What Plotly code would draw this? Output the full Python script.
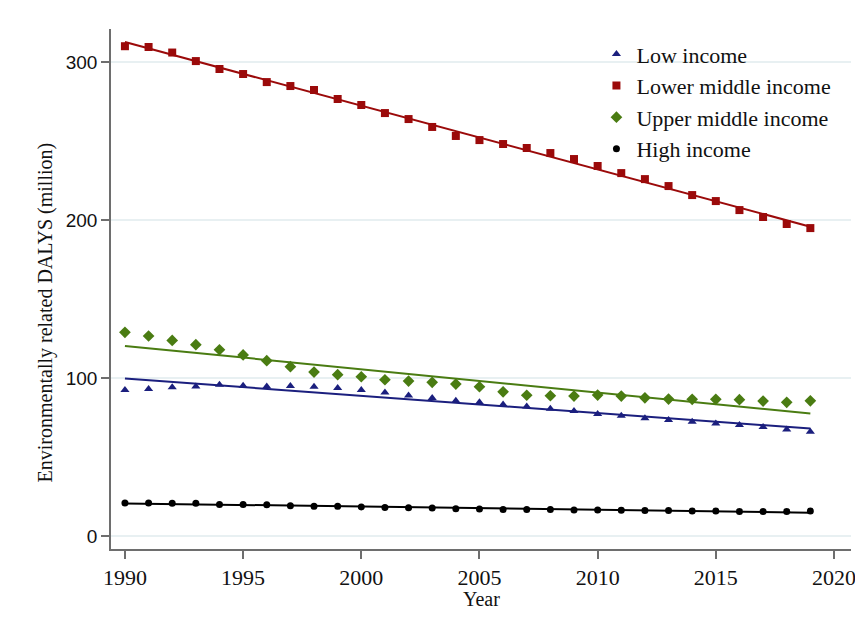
import numpy as np
import plotly.graph_objects as go

# data (million DALYs)
years = list(range(1990, 2020))

low_income = [92.4, 93.0, 94.1, 94.7, 95.8, 95.1, 94.7, 94.9, 94.5, 93.7,
              92.4, 90.9, 89.0, 87.3, 85.6, 84.6, 83.3, 82.0, 80.6, 79.1,
              77.2, 76.2, 74.5, 73.4, 72.4, 71.3, 70.3, 69.0, 67.5, 66.0]

lower_middle = [310.0, 309.5, 306.0, 300.6, 295.6, 292.4, 287.3, 284.8, 282.3, 276.6,
                272.8, 267.7, 263.9, 258.9, 253.2, 250.6, 248.1, 245.6, 242.4, 238.6,
                234.2, 229.7, 225.9, 221.5, 215.8, 212.0, 206.3, 201.9, 197.5, 194.9]

upper_middle = [128.9, 126.6, 123.8, 121.1, 117.9, 114.6, 111.0, 107.2, 103.8, 102.1,
                100.8, 98.9, 98.1, 97.3, 96.2, 94.5, 91.3, 89.1, 88.8, 88.6,
                89.2, 88.6, 87.5, 86.7, 86.5, 86.5, 86.3, 85.4, 84.6, 85.6]

high_income = [20.9, 20.9, 20.7, 20.7, 20.0, 20.0, 19.8, 19.2, 18.8, 18.8,
               18.4, 18.1, 17.9, 17.7, 17.3, 17.1, 16.8, 16.8, 16.8, 16.5,
               16.5, 16.3, 16.1, 16.1, 15.8, 15.8, 15.6, 15.5, 15.6, 15.8]

x_ticks = [1990, 1995, 2000, 2005, 2010, 2015, 2020]
y_ticks = [0, 100, 200, 300]

series = [
    ("Low income", low_income, "#1b1f7e", "triangle-up", 8),
    ("Lower middle income", lower_middle, "#9b0a0a", "square", 8),
    ("Upper middle income", upper_middle, "#4a7c12", "diamond", 9),
    ("High income", high_income, "#000000", "circle", 7),
]

serif = "Liberation Serif, Times New Roman, serif"
sans = "Liberation Sans, Arial, sans-serif"

fig = go.Figure()

# fitted linear trend for each group
for name, vals, col, sym, sz in series:
    k, b = np.polyfit(years, vals, 1)
    fit = [k * yr + b for yr in years]
    fig.add_trace(go.Scatter(
        x=years, y=fit, mode="lines", showlegend=False, hoverinfo="skip",
        line=dict(color=col, width=2)))

# observed points
for name, vals, col, sym, sz in series:
    fig.add_trace(go.Scatter(
        x=years, y=vals, mode="markers", name=name,
        marker=dict(symbol=sym, size=sz, color=col)))

# page body has an 8px margin, so the figure is a bit smaller than the window
fig.update_layout(
    width=855, height=614,
    paper_bgcolor="white", plot_bgcolor="white",
    margin=dict(l=103, r=12, t=21, b=73),
    font=dict(family=serif, size=21, color="#111111"),
    legend=dict(x=0.656, y=0.992, xanchor="left", yanchor="top",
                bgcolor="rgba(0,0,0,0)", font=dict(size=22),
                itemsizing="trace", tracegroupgap=0),
    annotations=[
        dict(text="Year", xref="paper", yref="paper", x=0.5, y=0,
             xanchor="center", yanchor="top", yshift=-37, showarrow=False,
             font=dict(size=20)),
        dict(text="Environmentally related DALYS (million)", xref="paper", yref="paper",
             x=0, y=0.455, xanchor="center", yanchor="middle", xshift=-66,
             textangle=-90, showarrow=False, font=dict(size=20)),
    ],
)

fig.update_xaxes(
    range=[1989.41, 2020.72], tickvals=x_ticks,
    showgrid=False, zeroline=False, automargin=False,
    ticklabeloverflow="allow",
    showline=True, linecolor="#6e6e6e", linewidth=1.5,
    ticks="outside", ticklen=8, tickcolor="#6e6e6e", tickwidth=1.5,
    tickfont=dict(size=22))

fig.update_yaxes(
    range=[-8.2, 320.9], tickvals=y_ticks,
    showgrid=True, gridcolor="#e8f0f2", gridwidth=1.5, zeroline=False,
    automargin=False,
    showline=True, linecolor="#6e6e6e", linewidth=1.5,
    ticks="outside", ticklen=8, tickcolor="#6e6e6e", tickwidth=1.5,
    tickfont=dict(family=sans, size=19))

fig.write_html("out.html")
